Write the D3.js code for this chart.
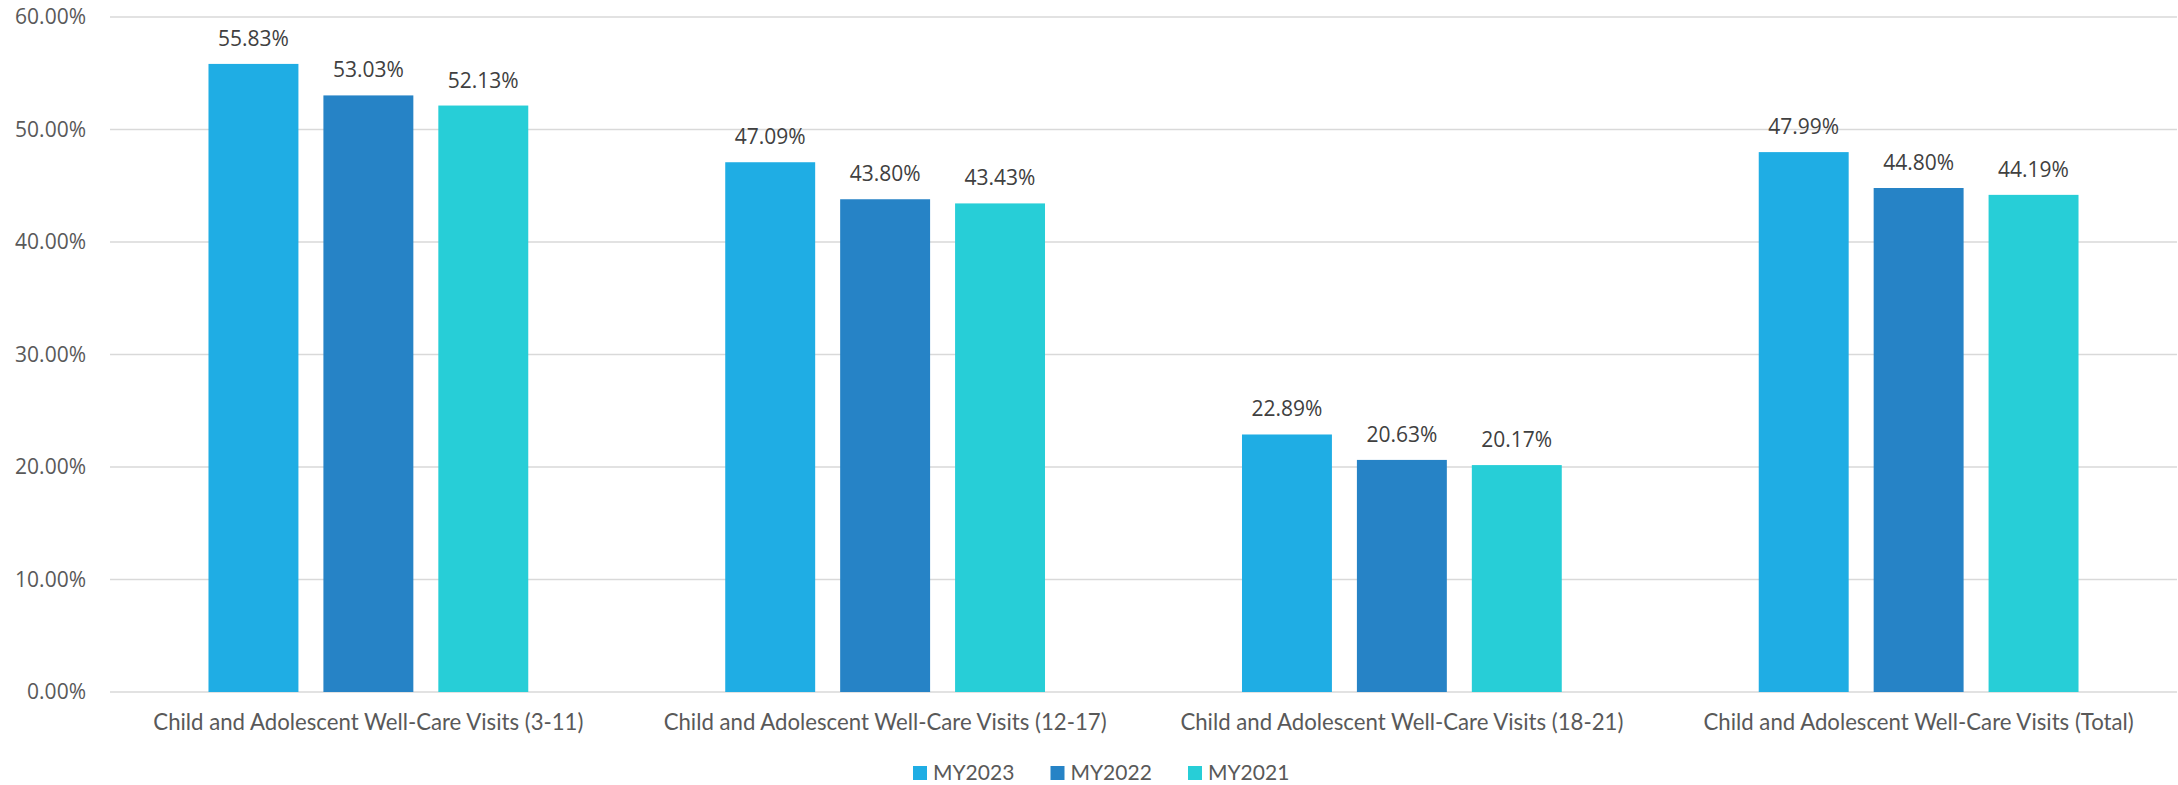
<!DOCTYPE html>
<html>
<head>
<meta charset="utf-8">
<script src="https://cdn.jsdelivr.net/npm/d3@7"></script>
<style>
    html, body { margin: 0; padding: 0; background: #fff; }
    .chart { width: 2178px; height: 785px; }
    .tick-label { font-family: 'Open Sans', sans-serif; font-size: 21px; fill: #595959; }
    .value-label { font-family: 'Open Sans', sans-serif; font-size: 21px; fill: #404040; }
    .cat-label { font-family: Lato, sans-serif; font-size: 22.2px; fill: #595959; }
    .legend-label { font-family: Lato, sans-serif; font-size: 21px; fill: #595959; }
</style>
</head>
<body>
<div class="chart"></div>
<script>
(function () {
    'use strict';

    const categories = [
        'Child and Adolescent Well-Care Visits (3-11)',
        'Child and Adolescent Well-Care Visits (12-17)',
        'Child and Adolescent Well-Care Visits (18-21)',
        'Child and Adolescent Well-Care Visits (Total)'
    ];
    const seriesNames = ['MY2023', 'MY2022', 'MY2021'];
    const my2023 = [55.83, 47.09, 22.89, 47.99];
    const my2022 = [53.03, 43.80, 20.63, 44.80];
    const my2021 = [52.13, 43.43, 20.17, 44.19];
    const yTicks = [0, 10, 20, 30, 40, 50, 60];
    const colors = ['#1FADE4', '#2683C6', '#27CED7'];

    const seriesValues = [my2023, my2022, my2021];

    const margin = { 'top': 17, 'left': 110, 'right': 1, 'bottom': 93 };
    const fullWidth = 2178;
    const fullHeight = 785;
    const width = fullWidth - margin.left - margin.right;
    const height = fullHeight - margin.top - margin.bottom;

    const svg = d3.select('.chart').append('svg')
        .attr('width', fullWidth)
        .attr('height', fullHeight);

    const holder = svg.append('g')
        .attr('transform', 'translate(' + margin.left + ', ' + margin.top + ')');

    const x0 = d3.scaleBand().domain(categories).range([0, width]).padding(0);
    const x1 = d3.scaleBand().domain(seriesNames)
        .range([0, x0.bandwidth()])
        .paddingInner(0.2174)
        .paddingOuter(0.857);
    const y = d3.scaleLinear().domain([0, 60]).range([height, 0]);

    // gridlines
    holder.append('g').selectAll('line')
        .data(yTicks)
        .enter().append('line')
        .attr('x1', 0)
        .attr('x2', width)
        .attr('y1', function (d) { return y(d); })
        .attr('y2', function (d) { return y(d); })
        .attr('stroke', '#D9D9D9')
        .attr('stroke-width', 1.5);

    // y tick labels
    holder.append('g').selectAll('text')
        .data(yTicks)
        .enter().append('text')
        .attr('class', 'tick-label')
        .attr('x', -24)
        .attr('y', function (d) { return y(d); })
        .attr('dy', '0.35em')
        .attr('text-anchor', 'end')
        .text(function (d) { return d3.format('.2f')(d) + '%'; });

    const rows = [];
    categories.forEach(function (c, i) {
        seriesNames.forEach(function (s, j) {
            rows.push({ 'cat': c, 'series': s, 'idx': j, 'value': seriesValues[j][i] });
        });
    });

    const groups = holder.append('g').selectAll('g')
        .data(rows)
        .enter().append('g')
        .attr('transform', function (d) {
            return 'translate(' + (x0(d.cat) + x1(d.series)) + ', 0)';
        });

    groups.append('rect')
        .attr('x', 0)
        .attr('y', function (d) { return y(d.value); })
        .attr('width', x1.bandwidth())
        .attr('height', function (d) { return y(0) - y(d.value); })
        .attr('fill', function (d) { return colors[d.idx]; });

    groups.append('text')
        .attr('class', 'value-label')
        .attr('x', x1.bandwidth() / 2)
        .attr('y', function (d) { return y(d.value) - 18; })
        .attr('text-anchor', 'middle')
        .text(function (d) { return d3.format('.2f')(d.value) + '%'; });

    // category labels
    holder.append('g').selectAll('text')
        .data(categories)
        .enter().append('text')
        .attr('class', 'cat-label')
        .attr('x', function (d) { return x0(d) + x0.bandwidth() / 2; })
        .attr('y', height + 38)
        .attr('text-anchor', 'middle')
        .text(function (d) { return d; });

    // legend
    const legend = svg.append('g')
        .attr('transform', 'translate(913, 766)');

    const items = legend.selectAll('g')
        .data(seriesNames)
        .enter().append('g')
        .attr('transform', function (d, i) { return 'translate(' + (i * 137.5) + ', 0)'; });

    items.append('rect')
        .attr('width', 14)
        .attr('height', 14)
        .attr('fill', function (d, i) { return colors[i]; });

    items.append('text')
        .attr('class', 'legend-label')
        .attr('x', 20)
        .attr('y', 14)
        .text(function (d) { return d; });
}());
</script>
</body>
</html>
